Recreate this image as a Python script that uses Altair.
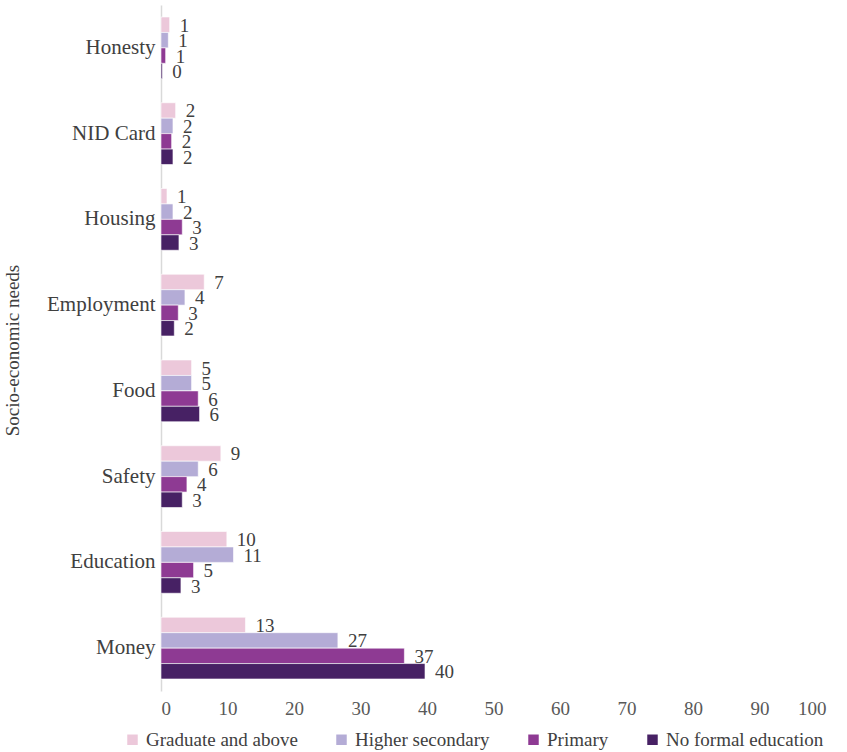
import altair as alt
import pandas as pd

# Socio-economic needs by education level
needs = ["Honesty", "NID Card", "Housing", "Employment", "Food", "Safety", "Education", "Money"]
levels = ["Graduate and above", "Higher secondary", "Primary", "No formal education"]
colors = ["#ECC8DA", "#B4ACD6", "#8E3A93", "#472164"]

graduate = [1.3, 2.2, 0.9, 6.5, 4.6, 9.0, 9.9, 12.7]
higher_secondary = [1.1, 1.8, 1.8, 3.6, 4.6, 5.6, 10.9, 26.6]
primary = [0.7, 1.6, 3.2, 2.6, 5.6, 3.9, 4.9, 36.6]
no_formal = [0.2, 1.8, 2.7, 2.0, 5.8, 3.2, 3.0, 39.7]

series = [graduate, higher_secondary, primary, no_formal]
rows = []
for level, values in zip(levels, series):
    for need, v in zip(needs, values):
        rows.append({"need": need, "level": level, "value": v})
df = pd.DataFrame(rows)

FONT = "Liberation Serif, Times New Roman, DejaVu Serif, serif"
TEXT = "#404040"

y_enc = alt.Y(
    "need:N",
    sort=needs,
    scale=alt.Scale(paddingInner=0.28, paddingOuter=0.14),
    axis=alt.Axis(
        title="Socio-economic needs",
        titleFont=FONT,
        titleFontSize=19,
        titleFontWeight="normal",
        titleColor=TEXT,
        titleX=-149,
        titleY=345,
        titleAngle=-90,
        titleAlign="center",
        titleBaseline="middle",
        labelFont=FONT,
        labelFontSize=21,
        labelColor=TEXT,
        labelPadding=6,
        ticks=False,
        domainColor="#D9D9D9",
        domainWidth=1.5,
    ),
)
yoff_enc = alt.YOffset("level:N", sort=levels)
x_enc = alt.X(
    "value:Q",
    scale=alt.Scale(domain=[0, 100], nice=False),
    axis=alt.Axis(
        title=None,
        values=list(range(0, 101, 10)),
        labelFont=FONT,
        labelFontSize=19,
        labelColor="#595959",
        labelPadding=8,
        ticks=False,
        domain=False,
        grid=False,
    ),
)

bars = alt.Chart(df).mark_bar(stroke="white", strokeWidth=0.6).encode(
    y=y_enc,
    yOffset=yoff_enc,
    x=x_enc,
    color=alt.Color(
        "level:N",
        sort=levels,
        scale=alt.Scale(domain=levels, range=colors),
        legend=alt.Legend(
            title=None,
            orient="none",
            legendX=-38,
            legendY=725,
            direction="horizontal",
            symbolType="square",
            symbolSize=110,
            symbolStrokeWidth=0,
            labelFont=FONT,
            labelFontSize=19,
            labelColor=TEXT,
            labelLimit=400,
            columnPadding=34,
        ),
    ),
)

labels = alt.Chart(df).mark_text(
    align="left", baseline="middle", dx=10, dy=1, font=FONT, fontSize=19, color=TEXT
).encode(
    y=alt.Y("need:N", sort=needs),
    yOffset=yoff_enc,
    x=alt.X("value:Q"),
    text=alt.Text("value:Q", format=".0f"),
)

chart = (
    alt.layer(bars, labels)
    .properties(
        width=665,
        height=686,
        background="white",
        autosize=alt.AutoSizeParams(type="none"),
        padding={"left": 161, "top": 5, "right": 21, "bottom": 61},
    )
    .configure_view(strokeWidth=0, stroke=None)
)

chart.save("out.html", embed_options={"renderer": "svg", "actions": False})
